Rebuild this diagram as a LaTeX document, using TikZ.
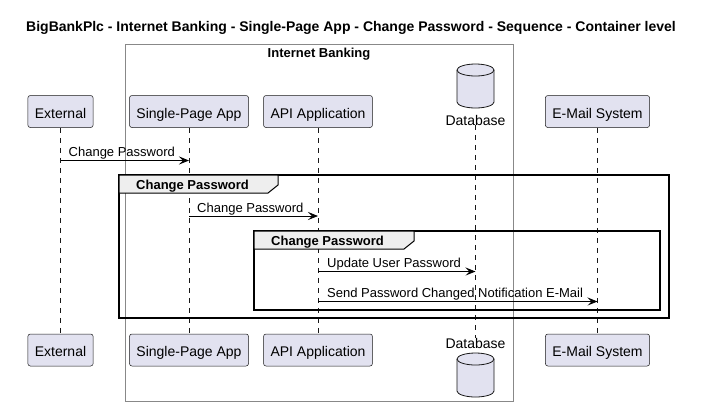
\documentclass[tikz,border=0pt]{standalone}
\usepackage{fontspec}
\setmainfont{Liberation Sans}
\usetikzlibrary{arrows.meta,calc}
\definecolor{partfill}{RGB}{226,226,240}
\definecolor{partline}{RGB}{24,24,24}
\definecolor{boxline}{RGB}{136,136,136}
\definecolor{tabfill}{RGB}{238,238,238}
\tikzset{
  part/.style={draw=partline, fill=partfill, line width=0.5pt, rounded corners=2.5pt,
    minimum height=32pt, inner xsep=7pt, inner ysep=0pt,
    font=\fontsize{14}{16}\selectfont, text height=13pt, text depth=0pt},
  dblbl/.style={inner sep=0pt, font=\fontsize{14}{16}\selectfont},
  life/.style={draw=partline, line width=0.5pt, dash pattern=on 5pt off 5pt},
  msg/.style={draw=black, line width=0.8pt, -{Stealth[length=10pt,width=8pt,inset=4pt]}},
  lbl/.style={inner sep=0pt, font=\fontsize{13}{15}\selectfont},
  frame/.style={draw=black, line width=1.5pt},
  tab/.style={draw=black, line width=1pt, fill=tabfill},
  tablbl/.style={inner sep=0pt, font=\bfseries\fontsize{13}{15}\selectfont},
  dbcyl/.pic={
    \path[fill=partfill, draw=partline, line width=0.8pt] (-18.5,6) -- (-18.5,38)
      .. controls (-18.5,41.3) and (-10.2,44) .. (0,44)
      .. controls (10.2,44) and (18.5,41.3) .. (18.5,38) -- (18.5,6)
      .. controls (18.5,2.7) and (10.2,0) .. (0,0)
      .. controls (-10.2,0) and (-18.5,2.7) .. (-18.5,6) -- cycle;
    \draw[partline, line width=0.8pt] (-18.5,6)
      .. controls (-18.5,9.3) and (-10.2,12) .. (0,12)
      .. controls (10.2,12) and (18.5,9.3) .. (18.5,6);
  }
}
\begin{document}
\begin{tikzpicture}[x=1pt,y=-1pt]
\useasboundingbox[fill=white] (0,0) rectangle (708,413);

% title
\node[inner sep=0pt, font=\bfseries\fontsize{14}{16}\selectfont, anchor=base] (title) at (351,31)
  {BigBankPlc - Internet Banking - Single-Page App - Change Password - Sequence - Container level};

% boundary box
\draw[boxline, line width=1pt] (125,44) rectangle (513,401);
\node[inner sep=0pt, font=\bfseries\fontsize{13}{15}\selectfont, anchor=base] (ib) at (319,57) {Internet Banking};

% participants (top)
\node[part] (extT) at (60.5,111.5) {External};
\node[part] (spaT) at (189,111.5) {Single-Page App};
\node[part] (apiT) at (318,111.5) {API Application};
\node[part] (mailT) at (597.5,111.5) {E-Mail System};
\node[dblbl, anchor=base] (dbT) at (475.5,125) {Database};

% participants (bottom)
\node[part] (extB) at (60.5,350) {External};
\node[part] (spaB) at (189,350) {Single-Page App};
\node[part] (apiB) at (318,350) {API Application};
\node[part] (mailB) at (597.5,350) {E-Mail System};
\node[dblbl, anchor=base] (dbB) at (475.5,348) {Database};

% lifelines
\draw[life] (extT.south) -- (extB.north);
\draw[life] (spaT.south) -- (spaB.north);
\draw[life] (apiT.south) -- (apiB.north);
\draw[life] (dbT.south) -- (dbB.north);
\draw[life] (mailT.south) -- (mailB.north);

% database cylinders
\pic at (475.5,64) {dbcyl};
\pic at (475.5,353) {dbcyl};

% group 1
\draw[frame] (119,175) rectangle (669,318);
\draw[tab] (119,175) -- (278,175) -- (278,185) -- (268,193) -- (119,193) -- cycle;
\node[tablbl, anchor=base west] (g1) at (136,189.5) {Change Password};

% group 2
\draw[frame] (254,231) rectangle (660,310);
\draw[tab] (254,231) -- (414,231) -- (414,241) -- (404,249) -- (254,249) -- cycle;
\node[tablbl, anchor=base west] (g2) at (271,245.5) {Change Password};

% messages
\coordinate (m1) at (0,160.5);
\coordinate (m2) at (0,216);
\coordinate (m3) at (0,271.5);
\coordinate (m4) at (0,301.5);

\draw[msg] (extT.south |- m1) -- (spaT.south |- m1);
\node[lbl, anchor=base west] (l1) at ($(extT.south |- m1)+(8,-4)$) {Change Password};

\draw[msg] (spaT.south |- m2) -- (apiT.south |- m2);
\node[lbl, anchor=base west] (l2) at ($(spaT.south |- m2)+(8,-4)$) {Change Password};

\draw[msg] (apiT.south |- m3) -- (dbT.south |- m3);
\node[lbl, anchor=base west] (l3) at ($(apiT.south |- m3)+(9,-4)$) {Update User Password};

\draw[msg] (apiT.south |- m4) -- (mailT.south |- m4);
\node[lbl, anchor=base west] (l4) at ($(apiT.south |- m4)+(9,-4)$) {Send Password Changed Notification E-Mail};
\end{tikzpicture}
\end{document}
